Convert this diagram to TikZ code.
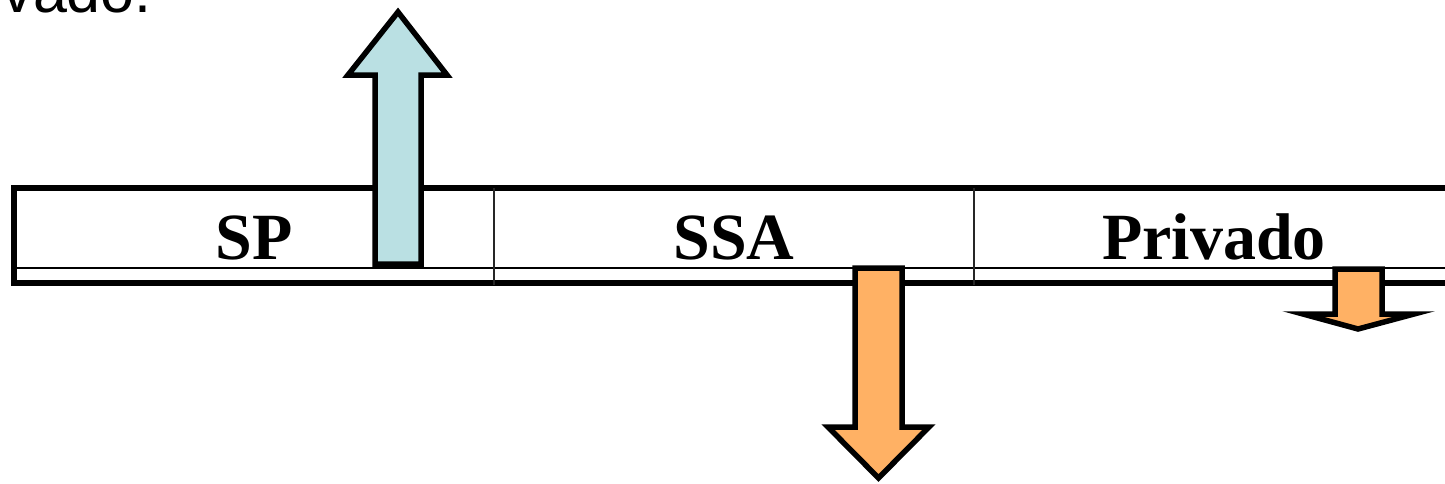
\documentclass[tikz,border=0pt]{standalone}
\usepackage{fontspec}
\setmainfont{Liberation Serif}
\newfontfamily\headsans{Liberation Sans}
\definecolor{upblue}{HTML}{BAE0E3}
\definecolor{downorange}{HTML}{FFB164}
\begin{document}
\begin{tikzpicture}[x=1pt,y=-1pt,
  frame/.style={line width=6pt},
  rule/.style={line width=2.5pt},
  divider/.style={line width=2pt,draw=black!85},
  celltext/.style={font=\fontsize{66}{78}\selectfont\bfseries,anchor=base},
  flow/.style={line width=5.5pt,line join=miter,draw=black}]
\useasboundingbox (0,0) rectangle (1445,483);

% heading fragment above the table
\node[font=\headsans\fontsize{61}{70}\selectfont,anchor=base east,inner sep=0pt] (head) at (152,12) {vado.};

% table: outer frame, inner rule and column dividers
\draw[frame] (1460,188) -- (14,188) -- (14,283) -- (1460,283);
\draw[rule] (14,268) -- (1460,268);
\draw[divider] (494,188) -- (494,285);
\draw[divider] (974,188) -- (974,285);

% cell labels
\node[celltext] (sp) at (254,259) {SP};
\node[celltext] (ssa) at (734,259) {SSA};
\node[celltext] (priv) at (1214,259) {Privado};

% block arrows
\draw[flow,fill=upblue] (375,264) -- (375,75) -- (348,75) -- (398,12) -- (447,75) -- (421,75) -- (421,264) -- cycle;
\draw[flow,fill=downorange] (855,268) -- (855,427) -- (828,427) -- (878.5,478) -- (929,427) -- (902,427) -- (902,268) -- cycle;
\draw[flow,fill=downorange] (1335,269) -- (1335,314) -- (1303,314) -- (1358,329) -- (1414,314) -- (1382,314) -- (1382,269) -- cycle;
\end{tikzpicture}
\end{document}
